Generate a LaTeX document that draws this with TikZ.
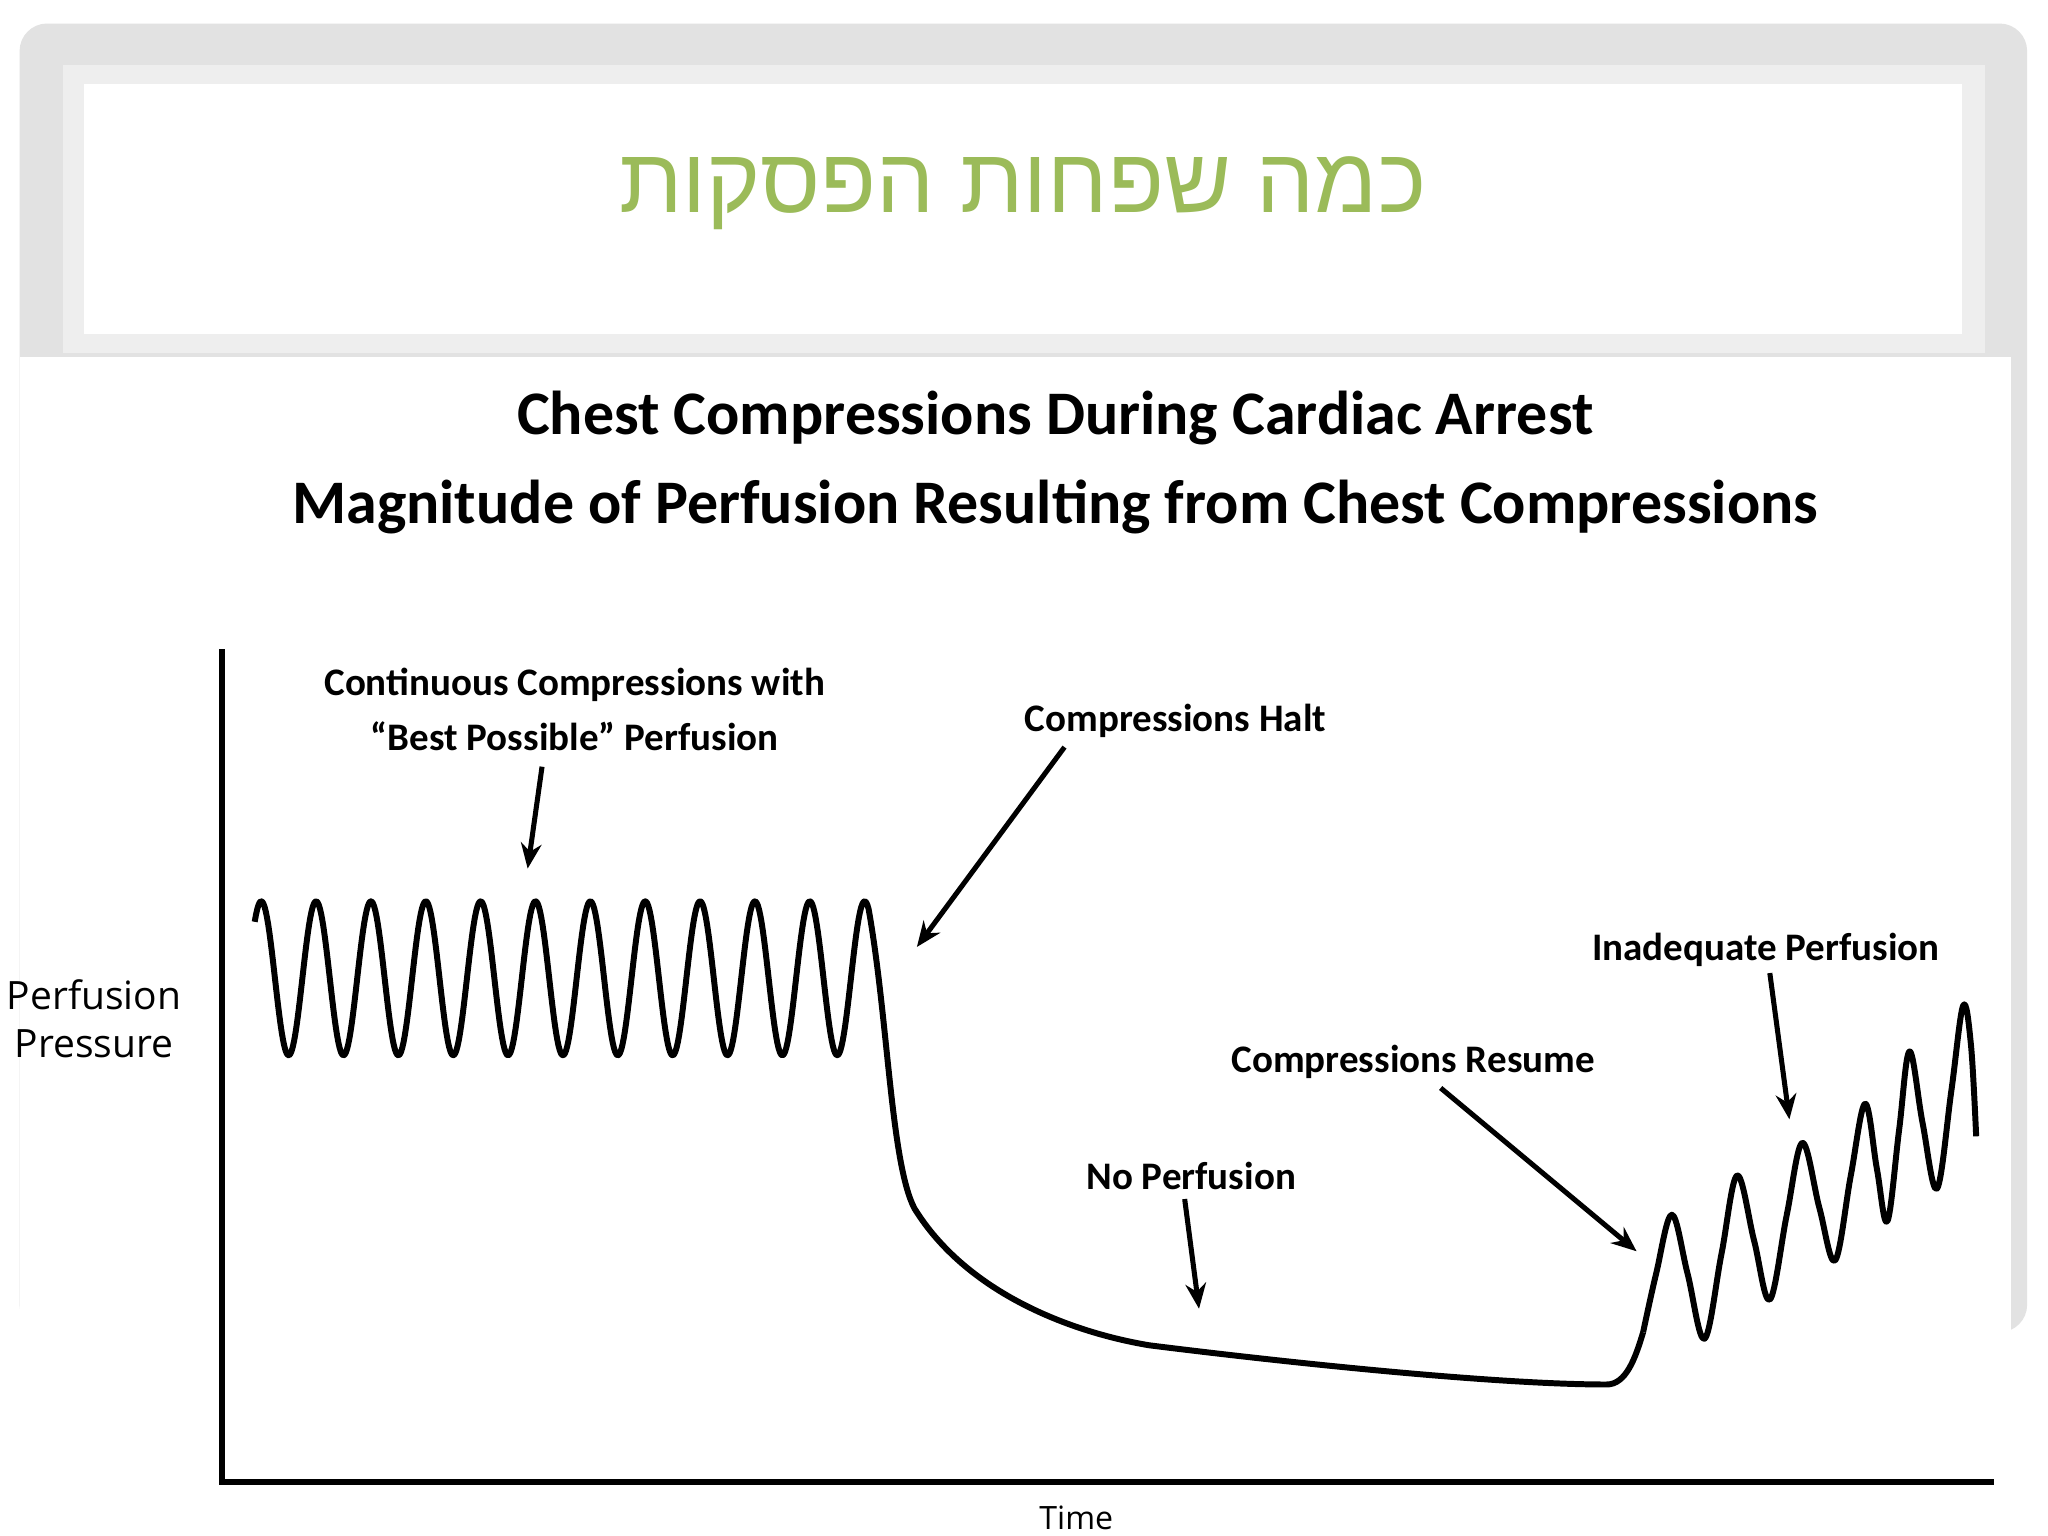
\documentclass[tikz,border=0pt]{standalone}
\usepackage{fontspec}
\setmainfont{Carlito}
\newfontfamily\hebfont[Script=Hebrew]{Liberation Sans}
\newfontfamily\axfont{Open Sans}
\TeXXeTstate=1
\usetikzlibrary{arrows.meta}
\definecolor{frame}{HTML}{E2E2E2}
\definecolor{hgreen}{HTML}{9BBB59}
\tikzset{
  lab/.style={font=\fontsize{17}{20}\selectfont\bfseries, inner sep=1pt},
  ttl/.style={font=\fontsize{27}{32}\selectfont\bfseries},
  pointer/.style={line width=2.2pt, -{Stealth[length=11pt,width=9pt]}},
  curve/.style={line width=2.6pt, line join=round}
}
\begin{document}
\begin{tikzpicture}[x=0.02cm,y=-0.02cm]
\useasboundingbox (0,0) rectangle (1568,1176);
\fill[white] (0,0) rectangle (1568,1176);
% slide frame
\fill[frame, rounded corners=12pt] (15,18) rectangle (1552,1020);
\fill[frame!60] (48,50) rectangle (1520,270);
\fill[white] (64,64) rectangle (1502,256);
\node (heb) at (783,148) {\color{hgreen}\hebfont\fontsize{40}{46}\selectfont\beginR כמה שפחות הפסקות\endR};
\fill[white] (15,273) rectangle (1540,1176);
% chart titles
\node[ttl] (t1) at (808,320) {Chest Compressions During Cardiac Arrest};
\node[ttl] (t2) at (808,388) {Magnitude of Perfusion Resulting from Chest Compressions};
% axes
\coordinate (o) at (170,1135);
\coordinate (ytop) at (170,497);
\coordinate (xend) at (1527,1135);
\draw[line width=2.6pt] (ytop) -- (o) -- (xend);
\node[font=\axfont\fontsize{17}{21}\selectfont, align=center] (yl) at (72,780) {Perfusion\\Pressure};
\node[font=\axfont\fontsize{14}{17}\selectfont] (xl) at (824,1162) {Time};
% waveform
\draw[curve] plot[domain=195:665, samples=500] (\x,{749-59*cos((\x-200)/42*360)})
  .. controls (680,780) and (682,890) .. (700,925)
  .. controls (740,990) and (820,1020) .. (880,1030)
  .. controls (1000,1045) and (1150,1060) .. (1230,1060)
  .. controls (1245,1060) and (1252,1040) .. (1258,1020);
\draw[curve] plot[smooth, tension=0.6] coordinates {(1258,1020) (1268,975) (1280,930) (1292,975) (1305,1025) (1318,960) (1330,900) (1343,950) (1355,995) (1368,930) (1380,875) (1393,925) (1405,965) (1417,900) (1428,845) (1437,895) (1445,935) (1454,865) (1462,805) (1472,860) (1483,910) (1494,835) (1503,770) (1509,800) (1513,870)};
% labels and pointers
\node[lab, align=center] (l1) at (440,543) {Continuous Compressions with\\[4pt]``Best Possible''  Perfusion};
\coordinate (a1) at (404,665);
\draw[pointer] (415,587) -- (a1);
\node[lab] (l2) at (900,552) {Compressions Halt};
\coordinate (a2) at (702,725);
\draw[pointer] (815,572) -- (a2);
\node[lab] (l3) at (912,900) {No Perfusion};
\coordinate (a3) at (918,1002);
\draw[pointer] (907,918) -- (a3);
\node[lab] (l4) at (1082,813) {Compressions Resume};
\coordinate (a4) at (1253,958);
\draw[pointer] (1103,833) -- (a4);
\node[lab] (l5) at (1352,727) {Inadequate Perfusion};
\coordinate (a5) at (1370,857);
\draw[pointer] (1355,745) -- (a5);
\end{tikzpicture}
\end{document}
